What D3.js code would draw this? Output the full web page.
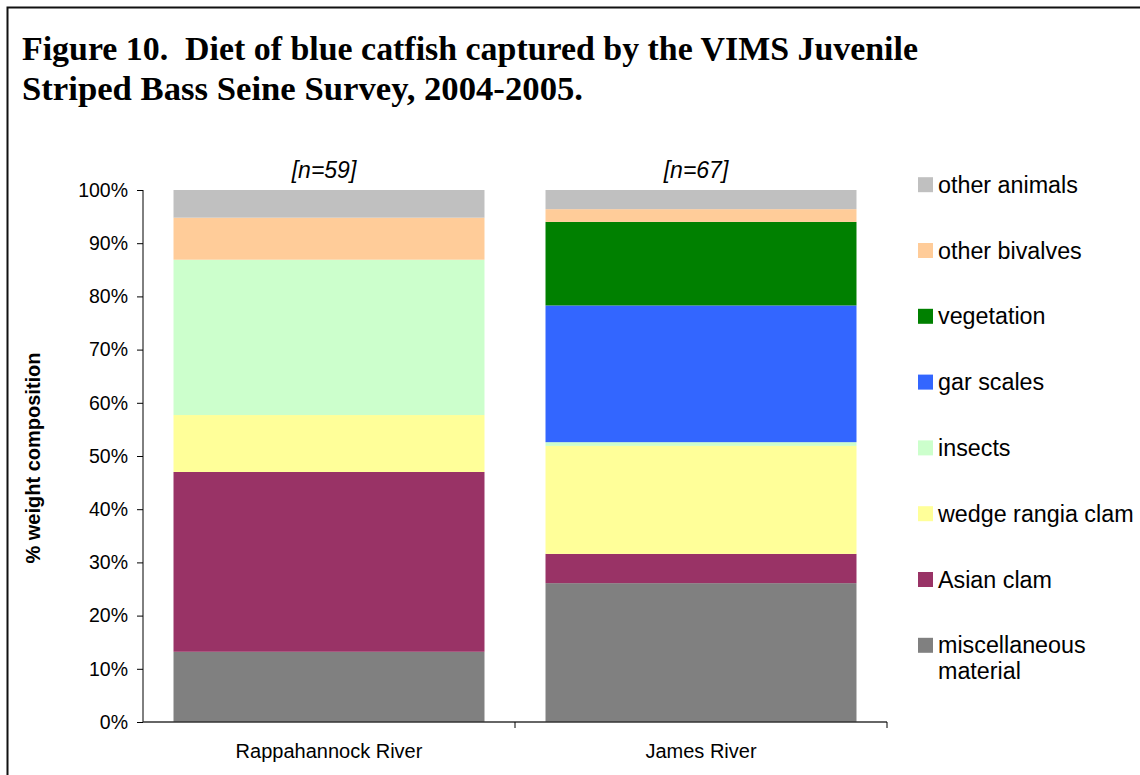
<!DOCTYPE html>
<html>
<head>
<meta charset="utf-8">
<script src="https://cdn.jsdelivr.net/npm/d3@7"></script>
<style>
  body { margin: 0; background: #fff; }
  svg { display: block; }
</style>
</head>
<body>
<svg id="chart"></svg>
<script>
// Data (percent of diet weight)
const categories = ["Rappahannock River", "James River"];
const sampleSizes = ["[n=59]", "[n=67]"];

const miscMaterial = [13.2, 26.1];
const asianClam = [33.8, 5.5];
const wedgeRangiaClam = [10.7, 20.3];
const insects = [29.2, 0.7];
const garScales = [0, 25.7];
const vegetation = [0, 15.7];
const otherBivalves = [7.9, 2.4];
const otherAnimals = [5.2, 3.6];

const yTicks = [0, 10, 20, 30, 40, 50, 60, 70, 80, 90, 100];

// stack order, bottom to top
const seriesNames = ["miscellaneous material", "Asian clam", "wedge rangia clam", "insects",
                     "gar scales", "vegetation", "other bivalves", "other animals"];
const seriesValues = [miscMaterial, asianClam, wedgeRangiaClam, insects,
                      garScales, vegetation, otherBivalves, otherAnimals];
const seriesColors = ["#808080", "#993366", "#FFFF99", "#CCFFCC",
                      "#3366FF", "#008000", "#FFCC99", "#C0C0C0"];

const width = 1140, height = 775;
const sans = "Arial, 'Liberation Sans', sans-serif";

let svg = d3.select("#chart")
  .attr("width", width)
  .attr("height", height)
  .attr("viewBox", [0, 0, width, height]);

// outer frame
svg.append("rect")
  .attr("x", 7.5).attr("y", 7.5)
  .attr("width", width + 20).attr("height", height + 20)
  .attr("fill", "none").attr("stroke", "#111").attr("stroke-width", 2);

// title
let title = svg.append("text")
  .attr("font-family", "'Times New Roman', 'Liberation Serif', serif")
  .attr("font-weight", "bold")
  .attr("font-size", 34.5)
  .attr("fill", "#000");
title.append("tspan").attr("x", 22).attr("y", 60)
  .attr("textLength", 896).attr("lengthAdjust", "spacingAndGlyphs")
  .text("Figure 10.  Diet of blue catfish captured by the VIMS Juvenile")
  .style("white-space", "pre");
title.append("tspan").attr("x", 22).attr("y", 100)
  .attr("textLength", 561).attr("lengthAdjust", "spacingAndGlyphs")
  .text("Striped Bass Seine Survey, 2004-2005.");

// build table rows for d3.stack
let table = categories.map((c, i) => {
  let row = { category: c };
  seriesNames.forEach((s, j) => { row[s] = seriesValues[j][i]; });
  return row;
});

let stacked = d3.stack().keys(seriesNames)(table);

let x = d3.scaleBand()
  .domain(categories)
  .range([143, 887])
  .paddingInner(0.164)
  .paddingOuter(0.082);

let y = d3.scaleLinear().domain([0, 100]).range([722, 190]);

let color = d3.scaleOrdinal().domain(seriesNames).range(seriesColors);

// bars
let layers = svg.append("g").selectAll("g").data(stacked).join("g")
  .attr("fill", (d) => color(d.key));

layers.selectAll("rect").data((d) => d).join("rect")
  .attr("x", (d) => x(d.data.category))
  .attr("width", x.bandwidth())
  .attr("y", (d) => y(d[1]))
  .attr("height", (d) => y(d[0]) - y(d[1]));

// y axis
let yAxis = svg.append("g")
  .attr("transform", "translate(143,0)")
  .call(d3.axisLeft(y).tickValues(yTicks).tickSize(6).tickPadding(9).tickFormat((d) => d + "%"));
yAxis.select(".domain").attr("stroke", "#000").attr("d", "M0,190V722");
yAxis.selectAll(".tick line").attr("stroke", "#000");
yAxis.selectAll("text")
  .attr("font-family", sans).attr("font-size", 19.5).attr("fill", "#000");

// x axis with boundary ticks between categories
let xAxis = svg.append("g").attr("transform", "translate(0,722)");
xAxis.append("line")
  .attr("x1", 143).attr("x2", 887).attr("y1", 0).attr("y2", 0)
  .attr("stroke", "#333").attr("stroke-width", 1.5);
let boundaries = [x.range()[0], (x.range()[0] + x.range()[1]) / 2, x.range()[1]];
xAxis.selectAll("line.b").data(boundaries.slice(1)).join("line")
  .attr("class", "b")
  .attr("x1", (d) => d).attr("x2", (d) => d)
  .attr("y1", 0).attr("y2", 6)
  .attr("stroke", "#000");
xAxis.selectAll("text").data(categories).join("text")
  .attr("x", (d) => x(d) + x.bandwidth() / 2)
  .attr("y", 36)
  .attr("text-anchor", "middle")
  .attr("font-family", sans).attr("font-size", 20).attr("fill", "#000")
  .text((d) => d);

// sample size labels above bars
svg.append("g").selectAll("text").data(categories).join("text")
  .attr("x", (d) => x(d) + x.bandwidth() / 2 - 5)
  .attr("y", 178)
  .attr("text-anchor", "middle")
  .attr("font-family", sans).attr("font-size", 23).attr("font-style", "italic")
  .attr("fill", "#000")
  .text((d, i) => sampleSizes[i]);

// y axis title
svg.append("text")
  .attr("transform", "translate(40,458) rotate(-90)")
  .attr("text-anchor", "middle")
  .attr("font-family", sans).attr("font-weight", "bold").attr("font-size", 20)
  .attr("fill", "#000")
  .text("% weight composition");

// legend, top to bottom is reverse of stack order
let legendNames = seriesNames.slice().reverse();
let legend = svg.append("g").selectAll("g").data(legendNames).join("g")
  .attr("transform", (d, i) => "translate(918," + (184.7 + i * 65.8) + ")");

legend.append("rect")
  .attr("x", 0).attr("y", -7.5)
  .attr("width", 15).attr("height", 15)
  .attr("fill", (d) => color(d));

legend.append("text")
  .attr("x", 20).attr("y", 8)
  .attr("font-family", sans).attr("font-size", 23.3).attr("fill", "#000")
  .each(function(d) {
    let t = d3.select(this);
    if (d == "miscellaneous material") {
      t.append("tspan").attr("x", 20).attr("y", 8).text("miscellaneous");
      t.append("tspan").attr("x", 20).attr("y", 34).text("material");
    } else {
      t.text(d);
    }
  });
</script>
</body>
</html>
